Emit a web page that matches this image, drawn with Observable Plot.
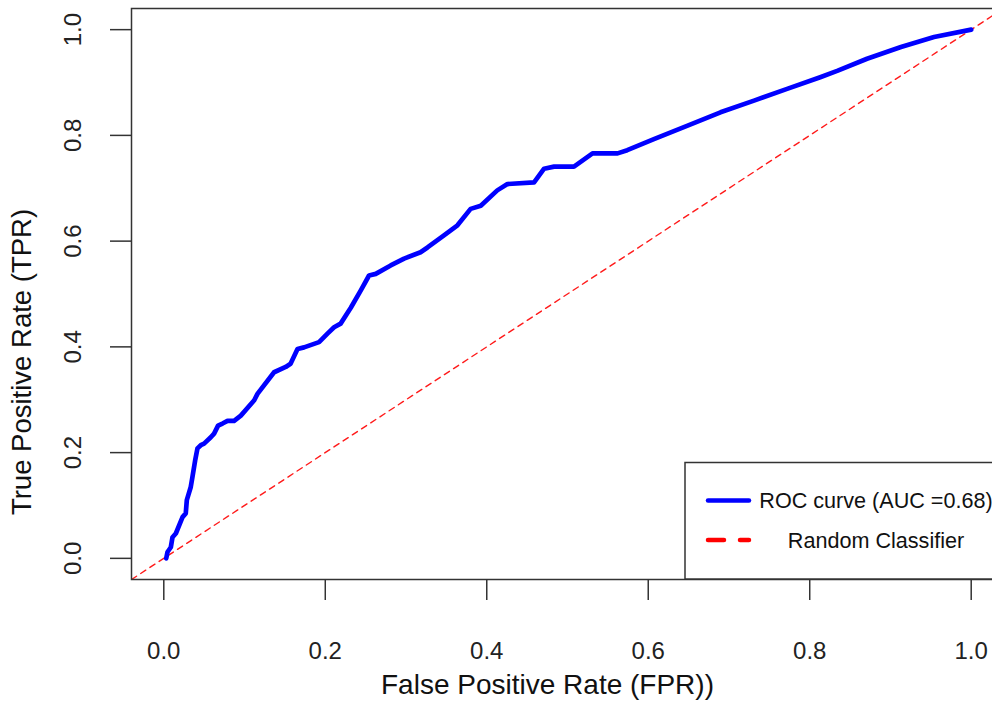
<!DOCTYPE html>
<html>
<head>
<meta charset="utf-8">
<script src="https://cdn.jsdelivr.net/npm/d3@7"></script>
<script src="https://cdn.jsdelivr.net/npm/@observablehq/plot@0.6"></script>
<style>
  html, body { margin: 0; padding: 0; background: #fff; }
  #chart { width: 992px; height: 703px; overflow: hidden; position: relative; }
  #chart svg { overflow: hidden; }
</style>
</head>
<body>
<div id="chart"></div>
<script>
// ROC curve points
const fpr = [0.003, 0.0046, 0.0087, 0.0108, 0.0149, 0.0232, 0.0272, 0.0285, 0.0334, 0.0355,
  0.0388, 0.0417, 0.0458, 0.0499, 0.0582, 0.0623, 0.0672, 0.0727, 0.0789, 0.0871,
  0.0954, 0.112, 0.116, 0.1366, 0.151, 0.157, 0.1656, 0.1737, 0.1923, 0.2027,
  0.2109, 0.219, 0.2316, 0.244, 0.2542, 0.2625, 0.281, 0.2976, 0.318, 0.3266,
  0.347, 0.3637, 0.380, 0.3926, 0.413, 0.4256, 0.4586, 0.471, 0.4834, 0.508,
  0.531, 0.562, 0.574, 0.607, 0.648, 0.6895, 0.731, 0.772, 0.813, 0.834,
  0.871, 0.913, 0.954, 1.0];
const tpr = [0.000, 0.012, 0.021, 0.040, 0.047, 0.078, 0.085, 0.110, 0.135, 0.154,
  0.185, 0.208, 0.214, 0.217, 0.229, 0.236, 0.251, 0.255, 0.260, 0.260,
  0.270, 0.299, 0.311, 0.352, 0.362, 0.368, 0.396, 0.399, 0.409, 0.425,
  0.437, 0.444, 0.474, 0.507, 0.535, 0.538, 0.554, 0.567, 0.579, 0.588,
  0.611, 0.630, 0.661, 0.667, 0.696, 0.708, 0.711, 0.737, 0.741, 0.741,
  0.766, 0.766, 0.772, 0.793, 0.818, 0.8436, 0.8657, 0.888, 0.910, 0.922,
  0.945, 0.967, 0.986, 1.0];
// Random classifier reference line y = x, across the padded axis range
const randomLine = [-0.04, 1.04];
const xTicks = [0, 0.2, 0.4, 0.6, 0.8, 1.0];
const yTicks = [0, 0.2, 0.4, 0.6, 0.8, 1.0];
const xTitle = "False Positive Rate (FPR))";
const yTitle = "True Positive Rate (TPR)";
const legendLabels = ["ROC curve (AUC =0.68)", "Random Classifier"];

const roc = fpr.map((x, i) => ({x, y: tpr[i]}));
const diag = randomLine.map(v => ({x: v, y: v}));
const fmt = d3.format(".1f");
const FONT = "'Liberation Sans', Arial, Helvetica, sans-serif";

const plot = Plot.plot({
  width: 992,
  height: 703,
  marginLeft: 131,
  marginRight: -11,
  marginTop: 8,
  marginBottom: 124,
  style: {fontFamily: FONT, background: "#fff"},
  x: {domain: [-0.04, 1.04]},
  y: {domain: [-0.04, 1.04]},
  marks: [
    Plot.line(diag, {x: "x", y: "y", stroke: "#ff1a1a", strokeWidth: 1.4, strokeDasharray: "6,5", clip: true}),
    Plot.line(roc, {x: "x", y: "y", stroke: "#0000ff", strokeWidth: 4.7, strokeLinejoin: "round", strokeLinecap: "round"}),
    Plot.frame({stroke: "#333", strokeWidth: 1.5}),
    Plot.axisX({ticks: xTicks, tickSize: 21, tickPadding: 41, fontSize: 24, tickFormat: fmt, stroke: "#333", strokeWidth: 1.5, color: "#222", label: null}),
    Plot.axisY({ticks: yTicks, tickSize: 21, tickFormat: () => "", stroke: "#333", strokeWidth: 1.5, label: null}),
    Plot.text(yTicks, {y: d => d, text: d => fmt(d), frameAnchor: "left", dx: -58, rotate: -90, fontSize: 24, fill: "#222", textAnchor: "middle", lineAnchor: "middle"}),
    Plot.text([xTitle], {text: d => d, frameAnchor: "bottom", dx: -20, dy: 106, fontSize: 28, fill: "#111", textAnchor: "middle", lineAnchor: "middle"}),
    Plot.text([yTitle], {text: d => d, frameAnchor: "left", dx: -109, dy: 68, rotate: -90, fontSize: 27.5, fill: "#111", textAnchor: "middle", lineAnchor: "middle"})
  ]
});

document.getElementById("chart").appendChild(plot);

// Legend box (R-style) in the lower right of the plot region
const svg = d3.select(plot);
const lg = svg.append("g").attr("font-family", FONT);
lg.append("rect").attr("x", 685).attr("y", 462.5).attr("width", 400).attr("height", 116.5)
  .attr("fill", "#fff").attr("stroke", "#333").attr("stroke-width", 1.5);
lg.append("line").attr("x1", 708).attr("x2", 749).attr("y1", 500.5).attr("y2", 500.5)
  .attr("stroke", "#0000ff").attr("stroke-width", 4.5).attr("stroke-linecap", "round");
lg.append("line").attr("x1", 708).attr("x2", 749).attr("y1", 540).attr("y2", 540)
  .attr("stroke", "#ff0000").attr("stroke-width", 4.5).attr("stroke-linecap", "round")
  .attr("stroke-dasharray", "16,16");
lg.append("text").attr("x", 876).attr("y", 500).attr("dy", "0.35em").attr("text-anchor", "middle")
  .attr("font-size", 21.6).attr("fill", "#111").text(legendLabels[0]);
lg.append("text").attr("x", 876).attr("y", 540).attr("dy", "0.35em").attr("text-anchor", "middle")
  .attr("font-size", 21.6).attr("fill", "#111").text(legendLabels[1]);
</script>
</body>
</html>
